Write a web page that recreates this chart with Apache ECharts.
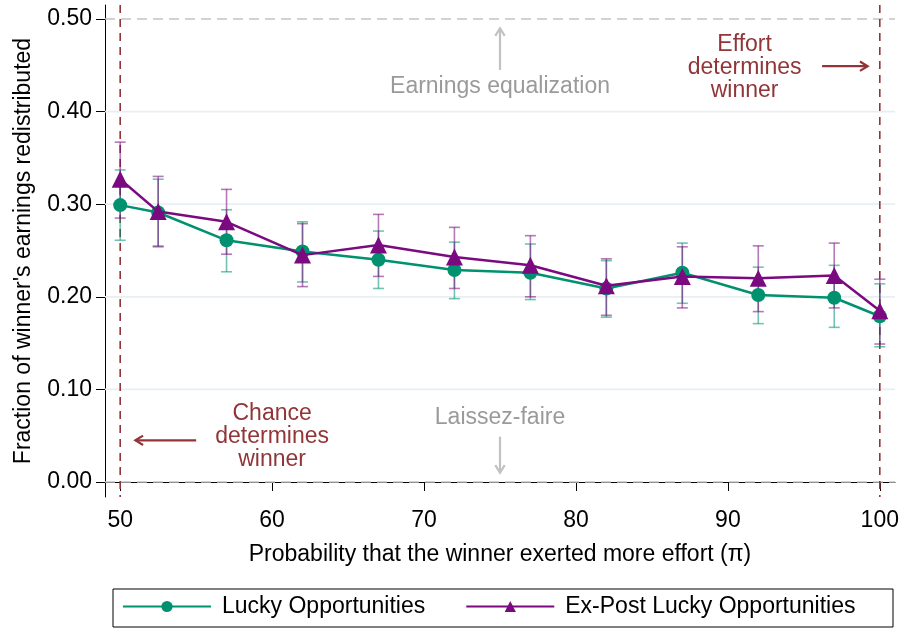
<!DOCTYPE html>
<html>
<head>
<meta charset="utf-8">
<script src="https://cdn.jsdelivr.net/npm/echarts@6/dist/echarts.min.js"></script>
<style>
  html, body { margin: 0; padding: 0; background: #ffffff; }
  #chart { width: 902px; height: 628px; }
</style>
</head>
<body>
<div id="chart"></div>
<script>
// probability (pi) values
const xValues = [50, 52.5, 57, 62, 67, 72, 77, 82, 87, 92, 97, 100];
// Lucky Opportunities: mean and CI
const lucky = [0.299, 0.291, 0.261, 0.249, 0.240, 0.229, 0.226, 0.209, 0.226, 0.202, 0.199, 0.179];
const luckyLow = [0.261, 0.255, 0.227, 0.216, 0.209, 0.198, 0.197, 0.178, 0.193, 0.171, 0.167, 0.146];
const luckyHigh = [0.337, 0.327, 0.294, 0.281, 0.271, 0.259, 0.257, 0.239, 0.258, 0.232, 0.234, 0.214];
// Ex-Post Lucky Opportunities: mean and CI
const expost = [0.327, 0.292, 0.281, 0.245, 0.256, 0.243, 0.234, 0.212, 0.222, 0.220, 0.223, 0.185];
const expostLow = [0.285, 0.254, 0.246, 0.211, 0.222, 0.209, 0.200, 0.180, 0.188, 0.184, 0.188, 0.149];
const expostHigh = [0.367, 0.330, 0.316, 0.279, 0.289, 0.275, 0.266, 0.241, 0.254, 0.255, 0.258, 0.219];

const yTicks = [0, 0.1, 0.2, 0.3, 0.4, 0.5];
const xTicks = [50, 60, 70, 80, 90, 100];
const gridLines = [0.1, 0.2, 0.3, 0.4];
const refLines = [0, 0.5];
const extremeLines = [50, 100];

const GREEN = "#00916f";
const PURPLE = "#7b0a80";
const RED = "#913538";
const GREY = "#9a9a9a";
const FONT = "Liberation Sans, Arial, Helvetica, sans-serif";
const FS = 23;

const chart = echarts.init(document.getElementById("chart"));

const errorBars = (color) => (params, api) => {
  const x = api.value(0);
  const top = api.coord([x, api.value(2)]);
  const bot = api.coord([x, api.value(1)]);
  const w = 5.5;
  const style = { stroke: color, lineWidth: 1.6 };
  return {
    type: "group",
    children: [
      { type: "line", shape: { x1: top[0], y1: top[1], x2: bot[0], y2: bot[1] }, style },
      { type: "line", shape: { x1: top[0] - w, y1: top[1], x2: top[0] + w, y2: top[1] }, style },
      { type: "line", shape: { x1: bot[0] - w, y1: bot[1], x2: bot[0] + w, y2: bot[1] }, style }
    ]
  };
};

const hLines = (color, dash, width) => (params, api) => {
  const cs = params.coordSys;
  const p = api.coord([75, api.value(1)]);
  return {
    type: "line",
    shape: { x1: cs.x, y1: p[1], x2: cs.x + cs.width, y2: p[1] },
    style: { stroke: color, lineWidth: width, lineDash: dash }
  };
};

const vLines = (params, api) => {
  const cs = params.coordSys;
  const p = api.coord([api.value(0), 0.25]);
  return {
    type: "line",
    shape: { x1: p[0], y1: cs.y, x2: p[0], y2: cs.y + cs.height },
    style: { stroke: RED, lineWidth: 1.6, lineDash: [8, 6] }
  };
};

// arrows: [x1, y1, x2, y2, colorIndex]
const arrows = [
  [75, 0.445, 75, 0.490, 0],
  [75, 0.049, 75, 0.010, 0],
  [96.2, 0.449, 99.2, 0.449, 1],
  [55.0, 0.045, 51.0, 0.045, 1]
];
const drawArrow = (params, api) => {
  const a = api.coord([api.value(0), api.value(1)]);
  const b = api.coord([api.value(2), api.value(3)]);
  const color = api.value(4) === 1 ? RED : "#c2c2c2";
  const ang = Math.atan2(b[1] - a[1], b[0] - a[0]);
  const len = 9, half = 0.55;
  const h1 = [b[0] - len * Math.cos(ang - half), b[1] - len * Math.sin(ang - half)];
  const h2 = [b[0] - len * Math.cos(ang + half), b[1] - len * Math.sin(ang + half)];
  const style = { stroke: color, lineWidth: 2.2, fill: null };
  return {
    type: "group",
    children: [
      { type: "line", shape: { x1: a[0], y1: a[1], x2: b[0], y2: b[1] }, style },
      { type: "polyline", shape: { points: [h1, b, h2] }, style }
    ]
  };
};

// notes: [x, y, textIndex]
const noteTexts = ["Earnings equalization", "Laissez-faire", "Effort\ndetermines\nwinner", "Chance\ndetermines\nwinner"];
const noteColors = [GREY, GREY, RED, RED];
const notes = [
  [75, 0.427, 0],
  [75, 0.070, 1],
  [91.1, 0.447, 2],
  [60.0, 0.0486, 3]
];
const drawNote = (params, api) => {
  const p = api.coord([api.value(0), api.value(1)]);
  const i = api.value(2);
  return {
    type: "text",
    x: p[0],
    y: p[1],
    style: {
      text: noteTexts[i],
      fill: noteColors[i],
      font: FS + "px " + FONT,
      align: "center",
      verticalAlign: "middle",
      lineHeight: 23
    }
  };
};

const option = {
  animation: false,
  grid: { left: 105, right: 7, top: 5, bottom: 131 },
  xAxis: {
    type: "value",
    min: 49,
    max: 101,
    name: "Probability that the winner exerted more effort (\u03c0)",
    nameLocation: "middle",
    nameGap: 46,
    nameTextStyle: { fontSize: FS, color: "#000", fontFamily: FONT },
    axisLine: { show: true, lineStyle: { color: "#000", width: 1 } },
    axisTick: { show: true, length: 9, lineStyle: { color: "#000" }, customValues: xTicks },
    axisLabel: { fontSize: FS, color: "#000", fontFamily: FONT, margin: 12, customValues: xTicks },
    splitLine: { show: false }
  },
  yAxis: {
    type: "value",
    min: -0.0162,
    max: 0.5151,
    name: "Fraction of winner's earnings redistributed",
    nameLocation: "middle",
    nameGap: 70,
    nameTextStyle: { fontSize: FS, color: "#000", fontFamily: FONT },
    axisLine: { show: true, lineStyle: { color: "#000", width: 1 } },
    axisTick: { show: true, length: 9, lineStyle: { color: "#000" }, customValues: yTicks },
    axisLabel: {
      fontSize: FS, color: "#000", fontFamily: FONT, margin: 13, customValues: yTicks,
      formatter: (v) => v.toFixed(2)
    },
    splitLine: { show: false }
  },
  legend: {
    data: ["Lucky Opportunities", "Ex-Post Lucky Opportunities"],
    left: 117,
    top: 590,
    itemWidth: 88,
    itemHeight: 14,
    itemGap: 40,
    textStyle: { fontSize: FS, color: "#000", fontFamily: FONT, padding: [0, 0, 0, 6] }
  },
  graphic: [{
    type: "rect",
    shape: { x: 113, y: 589, width: 780, height: 38 },
    style: { fill: null, stroke: "#000", lineWidth: 1 }
  }],
  series: [
    {
      type: "custom", name: "grid", silent: true, z: 1,
      renderItem: hLines("#e8eef1", null, 1.8),
      data: gridLines.map((v) => [75, v])
    },
    {
      type: "custom", name: "refs", silent: true, z: 1,
      renderItem: hLines("#c4c4c4", [10, 6], 1.6),
      data: refLines.map((v) => [75, v])
    },
    {
      type: "custom", name: "extremes", silent: true, z: 2,
      renderItem: vLines,
      data: extremeLines.map((v) => [v, 0.25])
    },
    {
      type: "custom", name: "arrows", silent: true, z: 2,
      renderItem: drawArrow,
      data: arrows
    },
    {
      type: "custom", name: "notes", silent: true, z: 2,
      renderItem: drawNote,
      data: notes
    },
    {
      type: "custom", name: "luckyCI", silent: true, z: 3,
      renderItem: errorBars("rgba(0,145,111,0.55)"),
      data: xValues.map((x, i) => [x, luckyLow[i], luckyHigh[i]])
    },
    {
      type: "custom", name: "expostCI", silent: true, z: 3,
      renderItem: errorBars("rgba(123,10,128,0.55)"),
      data: xValues.map((x, i) => [x, expostLow[i], expostHigh[i]])
    },
    {
      type: "line", name: "Lucky Opportunities", z: 4,
      data: xValues.map((x, i) => [x, lucky[i]]),
      symbol: "circle", symbolSize: 14,
      lineStyle: { color: GREEN, width: 2.5 },
      itemStyle: { color: GREEN }
    },
    {
      type: "line", name: "Ex-Post Lucky Opportunities", z: 5,
      data: xValues.map((x, i) => [x, expost[i]]),
      symbol: "triangle", symbolSize: 17,
      lineStyle: { color: PURPLE, width: 2.5 },
      itemStyle: { color: PURPLE }
    }
  ]
};

chart.setOption(option);
</script>
</body>
</html>
